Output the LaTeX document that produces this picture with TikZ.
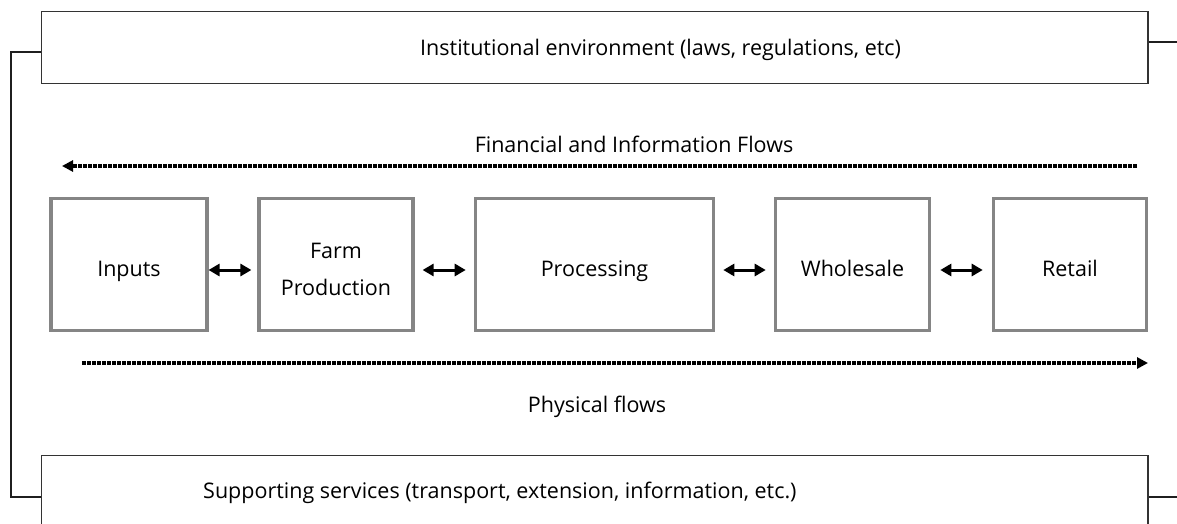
\documentclass[tikz,border=0pt]{standalone}
\usepackage{fontspec}
\setmainfont{Open Sans}
\usetikzlibrary{arrows.meta}
\begin{document}
\begin{tikzpicture}[x=1pt,y=-1pt,
  every node/.style={font=\fontsize{21.5}{37}\selectfont},
  outerbox/.style={draw=black!80, line width=1.5pt, inner sep=0pt, minimum width=1106.5pt},
  stage/.style={draw=black!48, line width=3.6pt, inner sep=0pt, minimum height=132pt},
  lbl/.style={inner sep=0pt},
  conn/.style={draw=black!88, line width=1.5pt},
  flow/.style={line width=3.4pt, dash pattern=on 4pt off 1pt, -{Triangle[length=11pt,width=11pt]}},
  link/.style={line width=3pt, {Triangle[length=11pt,width=12pt]}-{Triangle[length=11pt,width=12pt]}}
]
\useasboundingbox (0,0) rectangle (1177,524);
\clip (0,0) rectangle (1177,524);

% outer boxes
\node[outerbox, minimum height=72pt] (inst) at (594.75,47.7) {};
\node[lbl, anchor=base west] (instt) at (420,56) {Institutional environment (laws, regulations, etc)};
\node[outerbox, minimum height=82.6pt] (supp) at (594.75,497) {};
\node[lbl, anchor=base west] (suppt) at (203,498) {Supporting services (transport, extension, information, etc.)};

% side connectors
\coordinate (c1) at (11,52);
\coordinate (c2) at (11,497);
\coordinate (r1) at (1177,42);
\coordinate (r2) at (1177,497);
\draw[conn] (inst.west |- c1) -- (c1) -- (c2) -- (supp.west |- c2);
\draw[conn] (inst.east |- r1) -- (r1);
\draw[conn] (supp.east |- r2) -- (r2);

% stages
\node[stage, minimum width=155.5pt] (inp) at (129,264.5) {};
\node[stage, minimum width=153.6pt] (farm) at (336,264.5) {};
\node[stage, minimum width=238pt] (proc) at (594.5,264.5) {};
\node[stage, minimum width=154pt] (whol) at (852.5,264.5) {};
\node[stage, minimum width=153pt] (ret) at (1070,264.5) {};
\node[lbl, anchor=base] (inpt) at (inp |- 0,276) {Inputs};
\node[lbl, align=center] (farmt) at (336,269.5) {Farm\\Production};
\node[lbl, anchor=base] (proct) at (proc |- 0,276) {Processing};
\node[lbl, anchor=base] (wholt) at (whol |- 0,276) {Wholesale};
\node[lbl, anchor=base] (rett) at (ret |- 0,276) {Retail};

% links
\draw[link, shorten <=0pt, shorten >=6pt] ([yshift=-5.5pt]inp.east) -- ([yshift=-5.5pt]farm.west);
\draw[link, shorten <=8pt, shorten >=8pt] ([yshift=-5.5pt]farm.east) -- ([yshift=-5.5pt]proc.west);
\draw[link, shorten <=8pt, shorten >=8pt] ([yshift=-5.5pt]proc.east) -- ([yshift=-5.5pt]whol.west);
\draw[link, shorten <=9pt, shorten >=9pt] ([yshift=-5.5pt]whol.east) -- ([yshift=-5.5pt]ret.west);

% flows
\coordinate (fs) at (1137,166);
\coordinate (fe) at (62,166);
\draw[flow] (fs) -- (fe);
\node[lbl, anchor=base] (fint) at (634,152) {Financial and Information Flows};
\coordinate (ps) at (82,363);
\coordinate (pe) at (1148,363);
\draw[flow] (ps) -- (pe);
\node[lbl, anchor=base] (physt) at (597,412) {Physical flows};
\end{tikzpicture}
\end{document}
